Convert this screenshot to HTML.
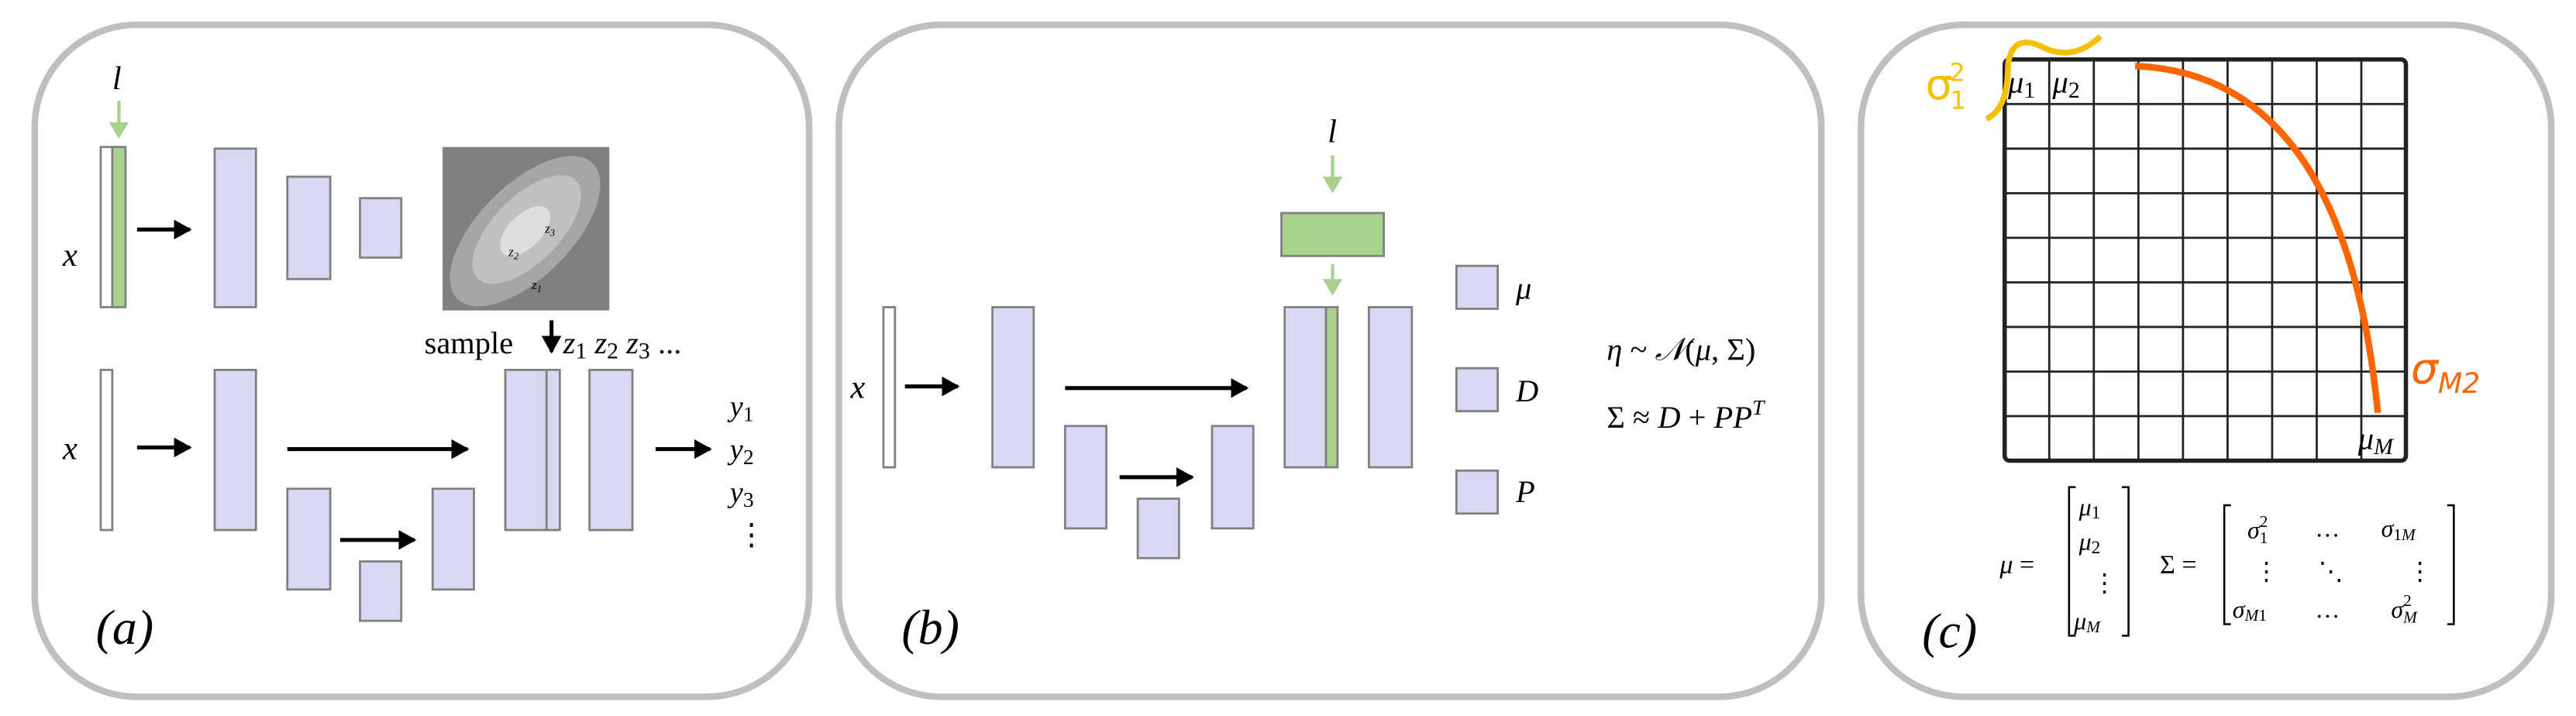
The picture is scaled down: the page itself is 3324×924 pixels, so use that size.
<!DOCTYPE html>
<html><head><meta charset="utf-8"><style>
html,body{margin:0;padding:0;background:#fff;}
svg{display:block;}
text{font-family:"Liberation Serif",serif;font-style:italic;fill:#000;}
.up{font-style:normal;}
.box{fill:#d8d8f2;stroke:#808080;stroke-width:1.3;}
.wh{fill:#fff;stroke:#808080;stroke-width:1.3;}
.gr{fill:#a9d18e;stroke:#808080;stroke-width:1.3;}
.panel{fill:#fff;stroke:#bfbfbf;stroke-width:4;}
.arr{stroke:#000;stroke-width:2.4;}
.garr{stroke:#a9d18e;stroke-width:2;}
.gl{stroke:#222;stroke-width:1.3;fill:none;}
</style></head><body>
<svg width="3324" height="924" viewBox="0 0 1560 433.6" xmlns="http://www.w3.org/2000/svg">
<defs>
<marker id="ah" markerWidth="6" markerHeight="6" refX="4" refY="3" orient="auto" markerUnits="strokeWidth"><path d="M0,0.5 L4.5,3 L0,5.5Z" fill="#000"/></marker>
<marker id="gh" markerWidth="6" markerHeight="6" refX="4" refY="3" orient="auto" markerUnits="strokeWidth"><path d="M0,0 L5,3 L0,6Z" fill="#a9d18e"/></marker>
</defs>

<g>
<rect class="panel" x="21" y="15" width="469" height="407" rx="62"/>
<text x="68" y="54" font-size="20">l</text>
<line class="garr" x1="72" y1="61" x2="72" y2="82" marker-end="url(#gh)"/>
<rect class="wh" x="61" y="89" width="7" height="97"/>
<rect class="gr" x="68" y="89" width="8" height="97"/>
<text x="38" y="161" font-size="20">x</text>
<line class="arr" x1="83" y1="139" x2="115" y2="139" marker-end="url(#ah)"/>
<rect class="box" x="130" y="90" width="25" height="96"/>
<rect class="box" x="174" y="107" width="26" height="62"/>
<rect class="box" x="218" y="120" width="25" height="36"/>
<g>
<rect x="268" y="89" width="101" height="99" fill="#808080"/>
<ellipse cx="318" cy="140" rx="58" ry="28" transform="rotate(-45 318 140)" fill="#a6a6a6"/>
<ellipse cx="319" cy="139" rx="42" ry="20" transform="rotate(-45 319 139)" fill="#c0c0c0"/>
<ellipse cx="318" cy="140" rx="19" ry="10" transform="rotate(-45 318 140)" fill="#dedede"/>
<text x="308" y="155" font-size="8">z<tspan font-size="6" dy="2">2</tspan></text>
<text x="330" y="141" font-size="8">z<tspan font-size="6" dy="2">3</tspan></text>
<text x="322" y="175" font-size="8">z<tspan font-size="6" dy="2">1</tspan></text>
</g>
<text x="257" y="214" font-size="19" class="up">sample</text>
<line class="arr" x1="334" y1="194" x2="334" y2="213" marker-end="url(#ah)"/>
<text x="341" y="214" font-size="19">z<tspan font-size="14" dy="3" class="up">1</tspan><tspan dy="-3"> z</tspan><tspan font-size="14" dy="3" class="up">2</tspan><tspan dy="-3"> z</tspan><tspan font-size="14" dy="3" class="up">3</tspan><tspan dy="-3" class="up"> ...</tspan></text>
<rect class="wh" x="61" y="224" width="7" height="97"/>
<text x="38" y="278" font-size="20">x</text>
<line class="arr" x1="83" y1="271" x2="115" y2="271" marker-end="url(#ah)"/>
<rect class="box" x="130" y="224" width="25" height="97"/>
<line class="arr" x1="174" y1="272" x2="283" y2="272" marker-end="url(#ah)"/>
<rect class="box" x="174" y="296" width="26" height="61"/>
<line class="arr" x1="206" y1="327" x2="251" y2="327" marker-end="url(#ah)"/>
<rect class="box" x="218" y="340" width="25" height="36"/>
<rect class="box" x="262" y="296" width="25" height="61"/>
<rect class="box" x="306" y="224" width="25" height="97"/>
<rect class="box" x="331" y="224" width="8" height="97"/>
<rect class="box" x="357" y="224" width="26" height="97"/>
<line class="arr" x1="397" y1="272" x2="430" y2="272" marker-end="url(#ah)"/>
<g font-size="18">
<text x="442" y="252">y<tspan font-size="13" dy="3" class="up">1</tspan></text>
<text x="442" y="278">y<tspan font-size="13" dy="3" class="up">2</tspan></text>
<text x="442" y="304">y<tspan font-size="13" dy="3" class="up">3</tspan></text>
<text x="446" y="330" class="up">⋮</text>
</g>
<text x="58" y="390" font-size="30">(a)</text>
</g>

<g>
<rect class="panel" x="508" y="15" width="595" height="407" rx="62"/>
<text x="804" y="86" font-size="20">l</text>
<line class="garr" x1="807" y1="94" x2="807" y2="115" marker-end="url(#gh)"/>
<rect class="gr" x="776" y="129" width="62" height="26"/>
<line class="garr" x1="807" y1="160" x2="807" y2="177" marker-end="url(#gh)"/>
<text x="515" y="241" font-size="20">x</text>
<rect class="wh" x="535" y="186" width="7" height="97"/>
<line class="arr" x1="548" y1="234" x2="580" y2="234" marker-end="url(#ah)"/>
<rect class="box" x="601" y="186" width="25" height="97"/>
<line class="arr" x1="645" y1="235" x2="755" y2="235" marker-end="url(#ah)"/>
<rect class="box" x="645" y="258" width="25" height="62"/>
<line class="arr" x1="678" y1="289" x2="722" y2="289" marker-end="url(#ah)"/>
<rect class="box" x="689" y="302" width="25" height="36"/>
<rect class="box" x="734" y="258" width="25" height="62"/>
<rect class="box" x="778" y="186" width="25" height="97"/>
<rect class="gr" x="803" y="186" width="7" height="97"/>
<rect class="box" x="829" y="186" width="26" height="97"/>
<rect class="box" x="882" y="161" width="25" height="26"/>
<rect class="box" x="882" y="223" width="25" height="26"/>
<rect class="box" x="882" y="285" width="25" height="26"/>
<text x="918" y="181" font-size="19">μ</text>
<text x="918" y="243" font-size="19">D</text>
<text x="918" y="304" font-size="19">P</text>
<text x="973" y="218" font-size="19">η <tspan class="up">~</tspan> 𝒩<tspan class="up">(</tspan>μ<tspan class="up">, Σ)</tspan></text>
<text x="973" y="259" font-size="19"><tspan class="up">Σ ≈ </tspan>D<tspan class="up"> + </tspan>PP<tspan font-size="13" dy="-8">T</tspan></text>
<text x="546" y="390" font-size="30">(b)</text>
</g>

<g>
<rect class="panel" x="1127" y="15" width="418" height="407" rx="62"/>
<g id="grid">
<rect x="1214" y="36" width="243" height="243" rx="3" fill="none" stroke="#222" stroke-width="2.6"/>
</g>
<path d="M1293,40 Q1420,45 1440,250" fill="none" stroke="#ff6600" stroke-width="4"/>
<path d="M1203,72 Q1216,66 1216,40 Q1218,20 1236,28 Q1255,38 1272,22" fill="none" stroke="#f5c000" stroke-width="3.5"/>
<text x="1166" y="60" font-size="26" style="fill:#f5c000;font-family:'DejaVu Sans',sans-serif;font-style:normal">σ<tspan font-size="15" dx="-2" dy="-11">2</tspan><tspan font-size="15" dx="-9" dy="17">1</tspan></text>
<text x="1460" y="232" font-size="26" style="fill:#ff6600;font-family:'DejaVu Sans',sans-serif;font-style:italic">σ<tspan font-size="17" dy="6">M2</tspan></text>
<text x="1216" y="56" font-size="19">μ<tspan font-size="14" dy="3" class="up">1</tspan></text>
<text x="1243" y="56" font-size="19">μ<tspan font-size="14" dy="3" class="up">2</tspan></text>
<text x="1428" y="272" font-size="19">μ<tspan font-size="14" dy="3">M</tspan></text>
<g>
<text x="1211" y="347" font-size="16">μ <tspan class="up">=</tspan></text>
<path d="M1257,295 h-4 v90 h4 M1285,295 h4 v90 h-4" fill="none" stroke="#000" stroke-width="1.2"/>
<text x="1259" y="312" font-size="15">μ<tspan font-size="11" dy="2" class="up">1</tspan></text>
<text x="1259" y="333" font-size="15">μ<tspan font-size="11" dy="2" class="up">2</tspan></text>
<text x="1267" y="358" font-size="15" class="up">⋮</text>
<text x="1256" y="381" font-size="15">μ<tspan font-size="10" dy="2">M</tspan></text>
</g>
<g>
<text x="1308" y="347" font-size="16" class="up">Σ =</text>
<path d="M1351,306 h-4 v72 h4 M1482,306 h4 v72 h-4" fill="none" stroke="#000" stroke-width="1.2"/>
<text x="1361" y="326" font-size="15">σ<tspan font-size="10" dy="-7" class="up">2</tspan><tspan font-size="10" dx="-5" dy="10" class="up">1</tspan></text>
<text x="1402" y="325" font-size="15" class="up">…</text>
<text x="1442" y="325" font-size="15">σ<tspan font-size="10" dy="2" class="up">1</tspan><tspan font-size="10">M</tspan></text>
<text x="1365" y="351" font-size="15" class="up">⋮</text>
<text x="1404" y="351" font-size="15" class="up">⋱</text>
<text x="1458" y="351" font-size="15" class="up">⋮</text>
<text x="1352" y="374" font-size="15">σ<tspan font-size="10" dy="2">M</tspan><tspan font-size="10" class="up">1</tspan></text>
<text x="1402" y="374" font-size="15" class="up">…</text>
<text x="1448" y="374" font-size="15">σ<tspan font-size="10" dy="-7" class="up">2</tspan><tspan font-size="10" dx="-5" dy="10">M</tspan></text>
</g>
<text x="1164" y="392" font-size="30">(c)</text>
</g>
</svg>
<script>
var gridCells = 9;
var g = document.getElementById('grid');
var ns = 'http://www.w3.org/2000/svg';
for (var i = 1; i < gridCells; i++) {
  var p = 1214 + i * 243 / gridCells;
  var v = document.createElementNS(ns, 'line');
  v.setAttribute('x1', p); v.setAttribute('x2', p); v.setAttribute('y1', 36); v.setAttribute('y2', 279);
  v.setAttribute('class', 'gl');
  
  
  g.appendChild(v);
  var q = 36 + i * 243 / gridCells;
  var h = document.createElementNS(ns, 'line');
  h.setAttribute('y1', q); h.setAttribute('y2', q); h.setAttribute('x1', 1214); h.setAttribute('x2', 1457);
  h.setAttribute('class', 'gl');
  
  
  g.appendChild(h);
}
</script>
</body></html>
